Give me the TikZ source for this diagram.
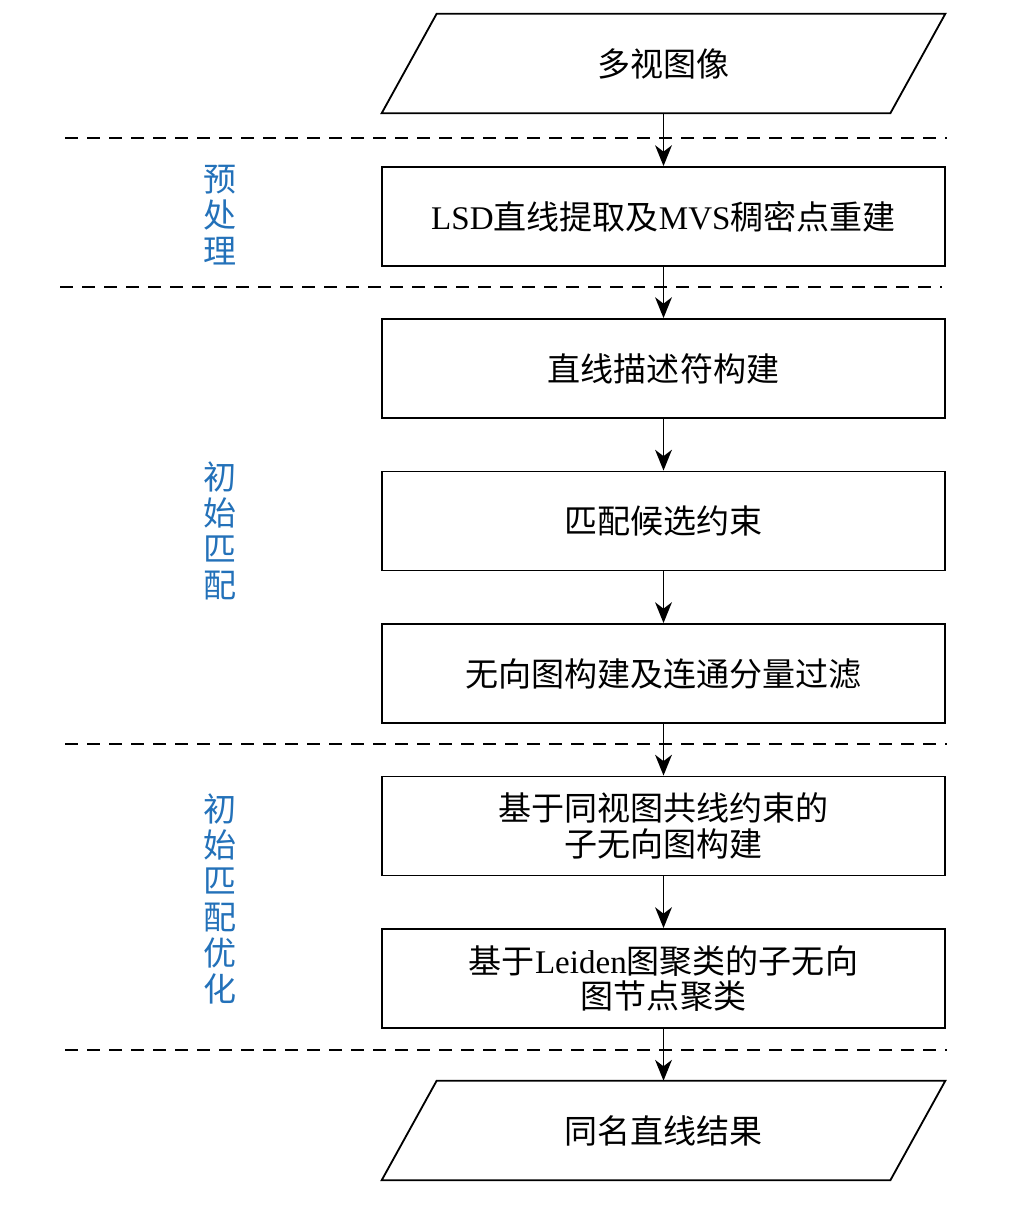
\documentclass[tikz,border=0pt]{standalone}
\usepackage{fontspec}
\usepackage{xcolor}
\setmainfont{Liberation Serif}
\newfontfamily\cjk{Noto Sans CJK SC}
\usetikzlibrary{arrows.meta}
\definecolor{phaseblue}{RGB}{35,113,185}

\begin{document}
\begin{tikzpicture}[x=0.025cm,y=-0.025cm,
        font=\fontsize{23.5}{25.5}\selectfont,
        stepbox/.style={draw,line width=1.3pt,minimum width=14.075cm,minimum height=2.475cm,align=center,inner sep=0pt},
        iobox/.style={minimum width=12.7cm,minimum height=2.475cm,align=center,inner sep=0pt},
        flow/.style={-{Stealth[length=0.52cm,width=0.42cm,inset=0.16cm]},line width=1.3pt},
        sep/.style={dash pattern=on 0.33cm off 0.22cm,line width=1pt},
        phase/.style={text=phaseblue,align=center,font=\fontsize{23.5}{25.5}\selectfont\cjk}]
    \useasboundingbox (0,0) rectangle (1009,1224);
    % steps
    \node[iobox] (img) at (663.5,63.5) {\cjk 多视图像};
    \node[stepbox] (lsd) at (663.5,216.5) {LSD{\cjk 直线提取及}MVS{\cjk 稠密点重建}};
    \node[stepbox] (desc) at (663.5,368.5) {\cjk 直线描述符构建};
    \node[stepbox] (cand) at (663.5,521) {\cjk 匹配候选约束};
    \node[stepbox] (graph) at (663.5,673.5) {\cjk 无向图构建及连通分量过滤};
    \node[stepbox] (sub) at (663.5,826) {\cjk 基于同视图共线约束的\\\cjk 子无向图构建};
    \node[stepbox] (leiden) at (663.5,978.5) {{\cjk 基于}Leiden{\cjk 图聚类的子无向}\\\cjk 图节点聚类};
    \node[iobox] (res) at (663.5,1130.5) {\cjk 同名直线结果};
    % slanted outline of input and output
    \foreach \n in {img,res}
        \draw[line width=1.3pt] ([xshift=0.6875cm]\n.north west) -- ([xshift=0.6875cm]\n.north east)
            -- ([xshift=-0.6875cm]\n.south east) -- ([xshift=-0.6875cm]\n.south west) -- cycle;
    % arrows
    \draw[flow] (img) -- (lsd);
    \draw[flow] (lsd) -- (desc);
    \draw[flow] (desc) -- (cand);
    \draw[flow] (cand) -- (graph);
    \draw[flow] (graph) -- (sub);
    \draw[flow] (sub) -- (leiden);
    \draw[flow] (leiden) -- (res);
    % stages
    \draw[sep] (65,138) -- (947,138);
    \draw[sep] (60,287) -- (942,287);
    \draw[sep] (65,744) -- (947,744);
    \draw[sep] (65,1050) -- (947,1050);
    \node[phase] (pre) at (220,215) {预\\处\\理};
    \node[phase] (init) at (220,531) {初\\始\\匹\\配};
    \node[phase] (opt) at (220,899) {初\\始\\匹\\配\\优\\化};
\end{tikzpicture}
\end{document}
